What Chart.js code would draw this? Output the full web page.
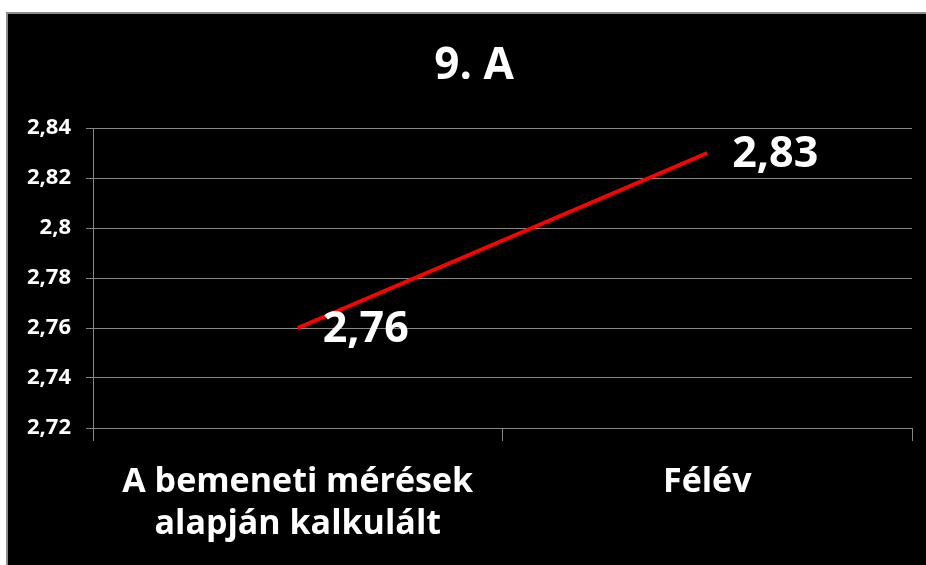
<!DOCTYPE html>
<html>
<head>
<meta charset="utf-8">
<script src="https://cdn.jsdelivr.net/npm/chart.js@4/dist/chart.umd.min.js"></script>
<style>
  html, body { margin: 0; padding: 0; background: #fff; }
  #wrap { position: relative; width: 926px; height: 565px; }
</style>
</head>
<body>
<div id="wrap"><canvas id="chart" width="926" height="565"></canvas></div>
<script>
const chartTitle = '9. A';
const categories = [['A bemeneti mérések', 'alapján kalkulált'], 'Félév'];
const values = [2.76, 2.83];
const yMin = 2.72;
const yMax = 2.84;
const yStep = 0.02;

const fmt = v => String(parseFloat(v.toFixed(2))).replace('.', ',');
const FONT = '"Open Sans", "DejaVu Sans", sans-serif';

// white page, grey frame on top/left, black chart box
const background = {
  id: 'background',
  beforeDraw(chart) {
    const ctx = chart.ctx;
    ctx.save();
    ctx.fillStyle = '#ffffff';
    ctx.fillRect(0, 0, chart.width, chart.height);
    ctx.fillStyle = '#8c8c8c';
    ctx.fillRect(6, 12, chart.width - 6, chart.height - 12);
    ctx.fillStyle = '#000000';
    ctx.fillRect(8, 14, chart.width - 8, chart.height - 14);
    ctx.restore();
  }
};

const titleAndLabels = {
  id: 'titleAndLabels',
  afterDatasetsDraw(chart) {
    const ctx = chart.ctx;
    ctx.save();
    ctx.fillStyle = '#ffffff';
    ctx.textBaseline = 'middle';
    ctx.font = 'bold 44px ' + FONT;
    ctx.textAlign = 'center';
    ctx.fillText(chartTitle, 474, 66);

    const meta = chart.getDatasetMeta(0);
    ctx.font = 'bold 43px ' + FONT;
    ctx.textAlign = 'left';
    meta.data.forEach((pt, i) => {
      ctx.fillText(fmt(values[i]), pt.x + 25, pt.y + 2);
    });
    ctx.restore();
  }
};

new Chart(document.getElementById('chart'), {
  type: 'line',
  data: {
    labels: categories,
    datasets: [{
      data: values,
      borderColor: '#ff0000',
      borderWidth: 4,
      pointRadius: 0,
      pointHoverRadius: 0,
      tension: 0,
      fill: false
    }]
  },
  options: {
    responsive: false,
    animation: false,
    events: [],
    layout: { padding: { top: 128, right: 14, left: 0, bottom: 0 } },
    plugins: {
      legend: { display: false },
      title: { display: false },
      tooltip: { enabled: false }
    },
    scales: {
      x: {
        offset: true,
        afterFit(scale) { scale.height = 137; },
        border: { display: false },
        grid: {
          offset: true,
          drawOnChartArea: false,
          drawTicks: true,
          tickLength: 13,
          color: '#868686',
          lineWidth: 1
        },
        ticks: {
          color: '#ffffff',
          padding: 20,
          maxRotation: 0,
          autoSkip: false,
          font: { family: FONT, size: 34, weight: 'bold', lineHeight: 1.25 }
        }
      },
      y: {
        min: yMin,
        max: yMax,
        afterFit(scale) { scale.width = 93; },
        border: { display: true, color: '#868686', width: 1 },
        grid: {
          color: '#868686',
          lineWidth: 1,
          drawTicks: true,
          tickLength: 7
        },
        ticks: {
          stepSize: yStep,
          color: '#ffffff',
          padding: 15,
          callback: v => fmt(v),
          font: { family: FONT, size: 22, weight: 'bold' }
        }
      }
    }
  },
  plugins: [background, titleAndLabels]
});
</script>
</body>
</html>
